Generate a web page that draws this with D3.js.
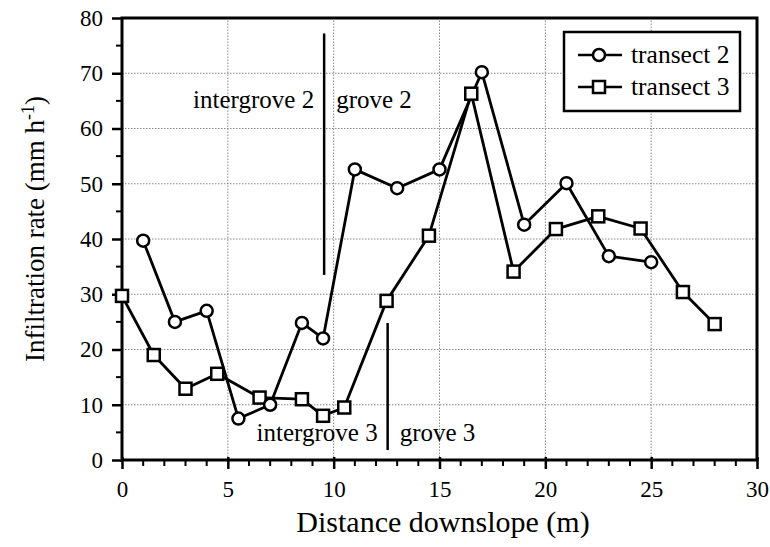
<!doctype html>
<html lang="en">
  <head>
    <meta charset="UTF-8" />
    <title>Infiltration rate vs distance downslope</title>
    <style>
      body { margin: 0; background: #fff; }
      .grid line { stroke: #888; stroke-dasharray: 1.5 1.5; stroke-width: 1; }
    </style>
  </head>
  <body>
    <div id="chart"></div>

    <script src="https://cdn.jsdelivr.net/npm/d3@7"></script>
    <script>
      // transect 2 (circles)
      const t2X = [1, 2.5, 4, 5.5, 7, 8.5, 9.5, 11, 13, 15, 17, 19, 21, 23, 25];
      const t2Y = [39.7, 25, 27, 7.5, 10, 24.8, 22, 52.6, 49.2, 52.6, 70.2, 42.6, 50.1, 36.9, 35.8];
      // transect 3 (squares)
      const t3X = [0, 1.5, 3, 4.5, 6.5, 8.5, 9.5, 10.5, 12.5, 14.5, 16.5, 18.5, 20.5, 22.5, 24.5, 26.5, 28];
      const t3Y = [29.7, 19, 12.9, 15.6, 11.3, 11, 8, 9.5, 28.8, 40.6, 66.3, 34.1, 41.8, 44.1, 41.9, 30.4, 24.6];

      const xTicks = [0, 5, 10, 15, 20, 25, 30];
      const yTicks = [0, 10, 20, 30, 40, 50, 60, 70, 80];
      const seriesNames = ["transect 2", "transect 3"];

      // zone boundaries
      const zone2 = { x: 9.55, top: 77.2, bottom: 33.5, left: "intergrove 2", right: "grove 2", labelY: 63.8 };
      const zone3 = { x: 12.55, top: 24.8, bottom: 1.8, left: "intergrove 3", right: "grove 3", labelY: 3.4 };

      const serif = '"Liberation Serif", "Times New Roman", Times, "DejaVu Serif", serif';
      const width = 770, height = 547;
      const margin = { left: 122, right: 13, top: 18, bottom: 87 };

      const x = d3.scaleLinear().domain([0, 30]).range([margin.left, width - margin.right]);
      const y = d3.scaleLinear().domain([0, 80]).range([height - margin.bottom, margin.top]);

      const svg = d3.select("#chart").append("svg")
          .attr("width", width)
          .attr("height", height)
          .style("font-family", serif);

      // grid
      const grid = svg.append("g").attr("class", "grid");
      grid.selectAll(".gx").data(xTicks.slice(1, -1)).enter().append("line")
          .attr("x1", d => x(d)).attr("x2", d => x(d))
          .attr("y1", y(0)).attr("y2", y(80));
      grid.selectAll(".gy").data(yTicks.slice(1, -1)).enter().append("line")
          .attr("x1", x(0)).attr("x2", x(30))
          .attr("y1", d => y(d)).attr("y2", d => y(d));

      // minor ticks
      const minorX = d3.range(0, 31, 1).filter(d => d % 5 !== 0);
      const minorY = d3.range(0, 81, 5).filter(d => d % 10 !== 0);
      svg.append("g").selectAll("line").data(minorX).enter().append("line")
          .attr("x1", d => x(d)).attr("x2", d => x(d))
          .attr("y1", y(0)).attr("y2", y(0) + 6)
          .attr("stroke", "#000").attr("stroke-width", 2);
      svg.append("g").selectAll("line").data(minorY).enter().append("line")
          .attr("x1", x(0) - 6).attr("x2", x(0))
          .attr("y1", d => y(d)).attr("y2", d => y(d))
          .attr("stroke", "#000").attr("stroke-width", 2);

      // axes
      const xAxis = svg.append("g")
          .attr("transform", `translate(0,${y(0)})`)
          .call(d3.axisBottom(x).tickValues(xTicks).tickSize(9).tickSizeOuter(0).tickPadding(12));
      const yAxis = svg.append("g")
          .attr("transform", `translate(${x(0)},0)`)
          .call(d3.axisLeft(y).tickValues(yTicks).tickSize(10).tickSizeOuter(0).tickPadding(9));
      [xAxis, yAxis].forEach(a => {
          a.attr("font-family", null);
          a.select(".domain").remove();
          a.selectAll(".tick line").attr("stroke", "#000").attr("stroke-width", 2.5);
          a.selectAll("text").style("font-family", serif).style("font-size", "23px").attr("fill", "#000");
      });
      xAxis.selectAll(".tick line").attr("y1", -3);

      // frame
      svg.append("rect")
          .attr("x", x(0)).attr("y", y(80))
          .attr("width", x(30) - x(0)).attr("height", y(0) - y(80))
          .attr("fill", "none").attr("stroke", "#000").attr("stroke-width", 3);

      // zone boundary lines and labels
      [zone2, zone3].forEach(z => {
          svg.append("line")
              .attr("x1", x(z.x)).attr("x2", x(z.x))
              .attr("y1", y(z.top)).attr("y2", y(z.bottom))
              .attr("stroke", "#000").attr("stroke-width", 2.5);
          svg.append("text")
              .attr("x", x(z.x) - 10).attr("y", y(z.labelY))
              .attr("text-anchor", "end")
              .style("font-size", "25px")
              .text(z.left);
          svg.append("text")
              .attr("x", x(z.x) + 12).attr("y", y(z.labelY))
              .style("font-size", "25px")
              .text(z.right);
      });

      const line = d3.line().x(d => x(d[0])).y(d => y(d[1]));
      const t2 = t2X.map((v, i) => [v, t2Y[i]]);
      const t3 = t3X.map((v, i) => [v, t3Y[i]]);

      svg.append("path").datum(t3).attr("d", line)
          .attr("fill", "none").attr("stroke", "#000").attr("stroke-width", 2.8).attr("stroke-linejoin", "round");
      svg.append("path").datum(t2).attr("d", line)
          .attr("fill", "none").attr("stroke", "#000").attr("stroke-width", 2.8).attr("stroke-linejoin", "round");

      const sq = 12;
      svg.append("g").selectAll("rect").data(t3).enter().append("rect")
          .attr("x", d => x(d[0]) - sq / 2).attr("y", d => y(d[1]) - sq / 2)
          .attr("width", sq).attr("height", sq)
          .attr("fill", "#fff").attr("stroke", "#000").attr("stroke-width", 2.5);
      svg.append("g").selectAll("circle").data(t2).enter().append("circle")
          .attr("cx", d => x(d[0])).attr("cy", d => y(d[1])).attr("r", 6)
          .attr("fill", "#fff").attr("stroke", "#000").attr("stroke-width", 2.5);

      // legend
      const lg = svg.append("g").attr("transform", "translate(564,32)");
      lg.append("rect").attr("width", 176).attr("height", 79)
          .attr("fill", "#fff").attr("stroke", "#000").attr("stroke-width", 2.5);
      seriesNames.forEach((name, i) => {
          const ry = 23 + i * 32;
          lg.append("line").attr("x1", 14).attr("x2", 58).attr("y1", ry).attr("y2", ry)
              .attr("stroke", "#000").attr("stroke-width", 2.5);
          if (i === 0) {
              lg.append("circle").attr("cx", 35).attr("cy", ry).attr("r", 6)
                  .attr("fill", "#fff").attr("stroke", "#000").attr("stroke-width", 2.5);
          } else {
              lg.append("rect").attr("x", 35 - 6).attr("y", ry - 6).attr("width", 12).attr("height", 12)
                  .attr("fill", "#fff").attr("stroke", "#000").attr("stroke-width", 2.5);
          }
          lg.append("text").attr("x", 67).attr("y", ry + 8)
              .style("font-size", "25.5px").text(name);
      });

      // axis titles
      svg.append("text")
          .attr("x", 443).attr("y", 532)
          .attr("text-anchor", "middle")
          .style("font-size", "30px")
          .text("Distance downslope (m)");

      const yt = svg.append("text")
          .attr("transform", `translate(44,229) rotate(-90)`)
          .attr("text-anchor", "middle")
          .style("font-size", "27px");
      yt.append("tspan").text("Infiltration rate (mm h");
      yt.append("tspan").attr("dy", -10).style("font-size", "18px").text("-1");
      yt.append("tspan").attr("dy", 10).text(")");
    </script>
  </body>
</html>
